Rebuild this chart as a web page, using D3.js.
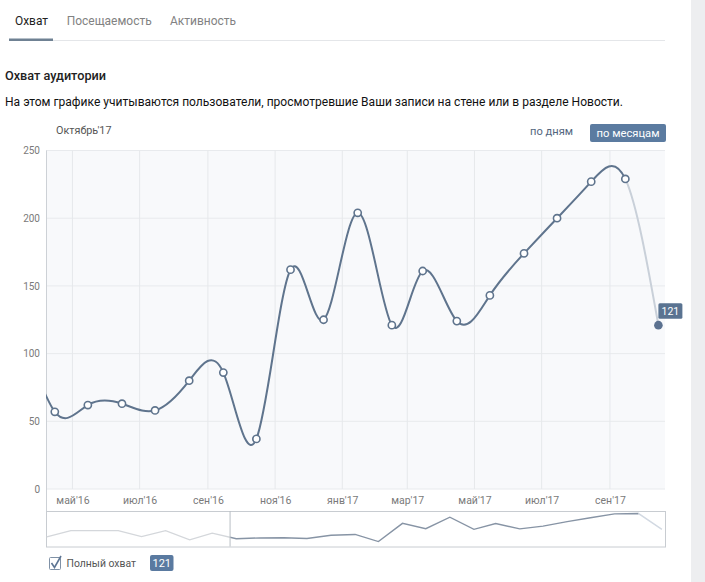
<!DOCTYPE html>
<html><head><meta charset="utf-8">
<script src="https://cdn.jsdelivr.net/npm/d3@7"></script>
<style>
body{margin:0;background:#fff;}
svg{display:block;font-family:Roboto,"Open Sans",sans-serif;}
</style>
</head><body>
<svg id="c" width="705" height="582"></svg>
<script>
// ---- data ----
const monthKeys = ["2015-08","2015-09","2015-10","2015-11","2015-12","2016-01","2016-02","2016-03",
  "2016-04","2016-05","2016-06","2016-07","2016-08","2016-09","2016-10","2016-11","2016-12",
  "2017-01","2017-02","2017-03","2017-04","2017-05","2017-06","2017-07","2017-08","2017-09","2017-10"];
const reach = [69,112,112,112,71,112,49,95,
  57,62,63,58,80,86,37,162,125,
  204,121,161,124,143,174,200,227,229,121];
const yTicks = [0,50,100,150,200,250];
const monthAbbr = ["янв","фев","мар","апр","май","июн","июл","авг","сен","окт","ноя","дек"];
const tabs = ["Охват","Посещаемость","Активность"];
const viewStart = "2016-04-07", viewEnd = "2017-10-21";
const navStart = "2015-08-14", navEnd = "2017-10-19";

const pd = s => { const [y,m,d] = s.split("-").map(Number); return new Date(y, m-1, d||15); };
const data = monthKeys.map((k,i) => ({date: pd(k), v: reach[i]}));
const last = data[data.length-1], prev = data[data.length-2];

const svg = d3.select("#c");
const defs = svg.append("defs");

// right grey strip
svg.append("rect").attr("x",691).attr("y",0).attr("width",14).attr("height",582).attr("fill","#edeef0");

// ---- header ----
const tabX = [15, 66.7, 170], tabW = [33, 85, 66];
tabs.forEach((t,i) => {
  svg.append("text").attr("x",tabX[i]).attr("y",24.5).attr("font-size",13)
    .attr("fill", i===0 ? "#222" : "#828282").attr("textLength",tabW[i]).attr("lengthAdjust","spacingAndGlyphs").text(t);
});
svg.append("line").attr("x1",53).attr("x2",665).attr("y1",40.5).attr("y2",40.5).attr("stroke","#e4e6e9");
svg.append("rect").attr("x",9).attr("y",38.5).attr("width",44).attr("height",2.5).attr("fill","#6f8193");

svg.append("text").attr("x",5).attr("y",80).attr("font-size",13).attr("font-weight",500).attr("fill","#222")
  .attr("textLength",101).attr("lengthAdjust","spacingAndGlyphs").text("Охват аудитории");
svg.append("text").attr("x",5).attr("y",106).attr("font-size",12.5).attr("fill","#111")
  .attr("textLength",618).attr("lengthAdjust","spacingAndGlyphs")
  .text("На этом графике учитываются пользователи, просмотревшие Ваши записи на стене или в разделе Новости.");

svg.append("text").attr("x",56).attr("y",134).attr("font-size",11).attr("fill","#555")
  .attr("textLength",55.5).attr("lengthAdjust","spacingAndGlyphs").text("Октябрь'17");
svg.append("text").attr("x",530).attr("y",135).attr("font-size",11).attr("fill","#52667e")
  .attr("textLength",43).attr("lengthAdjust","spacingAndGlyphs").text("по дням");
svg.append("rect").attr("x",590).attr("y",124).attr("width",76).attr("height",18).attr("rx",2).attr("fill","#5b7ba0");
svg.append("text").attr("x",628).attr("y",136.5).attr("font-size",11).attr("fill","#fff").attr("text-anchor","middle")
  .attr("textLength",63).attr("lengthAdjust","spacingAndGlyphs").text("по месяцам");

// ---- main chart ----
const L = 46, R = 665, T = 150.5, B = 489;
const x = d3.scaleTime().domain([pd(viewStart), pd(viewEnd)]).range([L, R]);
const y = d3.scaleLinear().domain([0, 250]).range([B, T]);

svg.append("rect").attr("x",L).attr("y",T).attr("width",R-L).attr("height",B-T).attr("fill","#f8f9fb");

const xTicks = x.ticks(d3.timeMonth.every(2));
svg.append("g").selectAll("line").data(yTicks).join("line")
  .attr("x1",L).attr("x2",R).attr("y1",d=>y(d)).attr("y2",d=>y(d)).attr("stroke","#e8eaed");
svg.append("g").selectAll("line").data(xTicks).join("line")
  .attr("x1",d=>x(d)).attr("x2",d=>x(d)).attr("y1",T).attr("y2",B).attr("stroke","#e6e8eb");
svg.append("line").attr("x1",L+0.5).attr("x2",L+0.5).attr("y1",T).attr("y2",B+22).attr("stroke","#cdd1d6");

const yAxis = svg.append("g").attr("transform",`translate(${L},0)`)
  .call(d3.axisLeft(y).tickValues(yTicks).tickSize(0).tickPadding(6));
yAxis.select(".domain").remove();
yAxis.selectAll("text").attr("font-size",10).attr("fill","#7a7a7a").attr("font-family","Roboto,sans-serif");

const fmt = d => monthAbbr[d.getMonth()] + "'" + String(d.getFullYear()).slice(2);
const xAxis = svg.append("g").attr("transform",`translate(0,${B})`)
  .call(d3.axisBottom(x).tickValues(xTicks).tickFormat(fmt).tickSize(0).tickPadding(8));
xAxis.select(".domain").remove();
xAxis.selectAll("text").attr("font-size",10.5).attr("fill","#7a7a7a").attr("font-family","Roboto,sans-serif");

const splitX = x(prev.date);
defs.append("clipPath").attr("id","clipDark").append("rect")
  .attr("x",L).attr("y",T-30).attr("width",splitX-L).attr("height",B-T+40);
defs.append("clipPath").attr("id","clipLight").append("rect")
  .attr("x",splitX).attr("y",T-30).attr("width",R-splitX+10).attr("height",B-T+40);

const line = d3.line().x(d=>x(d.date)).y(d=>y(d.v)).curve(d3.curveNatural);
svg.append("path").attr("d",line(data)).attr("fill","none").attr("stroke","#c9d0d9").attr("stroke-width",2)
  .attr("clip-path","url(#clipLight)");
svg.append("path").attr("d",line(data)).attr("fill","none").attr("stroke","#5f748d").attr("stroke-width",2)
  .attr("clip-path","url(#clipDark)");

const vis = data.filter(d => d.date >= x.domain()[0] && d.date <= x.domain()[1] && d !== last);
svg.append("g").selectAll("circle").data(vis).join("circle")
  .attr("cx",d=>x(d.date)).attr("cy",d=>y(d.v)).attr("r",3.6)
  .attr("fill","#fff").attr("stroke","#5f748d").attr("stroke-width",1.6);
svg.append("circle").attr("cx",x(last.date)).attr("cy",y(last.v)).attr("r",4.3).attr("fill","#5c7290");

const lx = x(last.date), ly = y(last.v);
svg.append("rect").attr("x",lx).attr("y",ly-22).attr("width",24).attr("height",15.5).attr("rx",1.5).attr("fill","#5a7391");
svg.append("text").attr("x",lx+12).attr("y",ly-10.5).attr("text-anchor","middle").attr("font-size",10.5)
  .attr("fill","#fff").text(last.v);

// ---- navigator ----
const NT = 511, NB = 546.5;
const nx = d3.scaleTime().domain([pd(navStart), pd(navEnd)]).range([L, R]);
const ny = d3.scaleLinear().domain([0, 250]).range([547, 510.5]);
svg.append("rect").attr("x",L+0.5).attr("y",NT+0.5).attr("width",R-L).attr("height",NB-NT)
  .attr("fill","#fff").attr("stroke","#c8ccd1");
const divX = nx(x.domain()[0]);
const nSplit = nx(prev.date);
defs.append("clipPath").attr("id","nClipA").append("rect").attr("x",L).attr("y",NT).attr("width",divX-L).attr("height",NB-NT);
defs.append("clipPath").attr("id","nClipB").append("rect").attr("x",divX).attr("y",NT).attr("width",nSplit-divX).attr("height",NB-NT);
defs.append("clipPath").attr("id","nClipC").append("rect").attr("x",nSplit).attr("y",NT).attr("width",R-nSplit).attr("height",NB-NT);
const nline = d3.line().x(d=>nx(d.date)).y(d=>ny(d.v));
[["nClipA","#d4d7db"],["nClipB","#8794a5"],["nClipC","#d2d9e2"]].forEach(([c,col]) => {
  svg.append("path").attr("d",nline(data)).attr("fill","none").attr("stroke",col).attr("stroke-width",1.4)
    .attr("clip-path",`url(#${c})`);
});
svg.append("line").attr("x1",divX).attr("x2",divX).attr("y1",NT).attr("y2",NB).attr("stroke","#b9bec4");

// ---- legend ----
svg.append("rect").attr("x",49.5).attr("y",557.5).attr("width",11).attr("height",12).attr("rx",1)
  .attr("fill","#fff").attr("stroke","#7f91a6");
svg.append("path").attr("d","M51.5,563 L54.5,567.5 L61,556").attr("fill","none").attr("stroke","#5d7593").attr("stroke-width",1.6);
svg.append("text").attr("x",66.5).attr("y",567).attr("font-size",11).attr("fill","#555")
  .attr("textLength",69.5).attr("lengthAdjust","spacingAndGlyphs").text("Полный охват");
svg.append("rect").attr("x",150).attr("y",555).attr("width",23.5).attr("height",16).attr("rx",2).attr("fill","#5a7aa0");
svg.append("text").attr("x",161.75).attr("y",567).attr("text-anchor","middle").attr("font-size",11)
  .attr("fill","#fff").text(last.v);
</script>
</body></html>
